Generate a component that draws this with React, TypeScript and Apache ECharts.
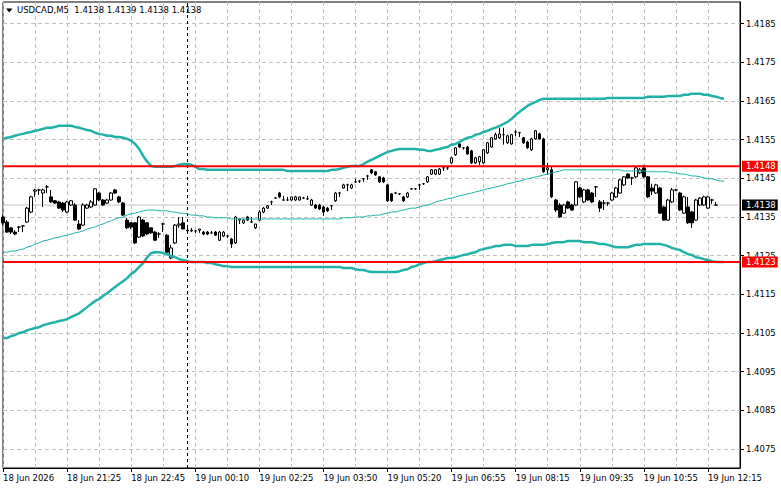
import React, { useEffect, useRef } from 'react';
import * as echarts from 'echarts';

const symbolName = 'USDCAD,M5';
const lastQuote = ['1.4138', '1.4139', '1.4138', '1.4138'];

const tickLabels = [
  '18 Jun 2026', '18 Jun 21:25', '18 Jun 22:45', '19 Jun 00:10', '19 Jun 02:25', '19 Jun 03:50',
  '19 Jun 05:20', '19 Jun 06:55', '19 Jun 08:15', '19 Jun 09:35', '19 Jun 10:55', '19 Jun 12:15',
];

const priceTicks = [1.4075, 1.4085, 1.4095, 1.4105, 1.4115, 1.4125, 1.4135, 1.4145, 1.4155, 1.4165, 1.4175, 1.4185];

const levelLines = [1.41481, 1.41234];
const bidPrice = 1.41381;
const separatorIndex = 46;
const slotCount = 185;

// [open, close, low, high]
const ohlc: number[][] = [
  [1.41350, 1.41335, 1.41329, 1.41355], [1.41337, 1.41311, 1.41309, 1.41342], [1.41322, 1.41311, 1.41306, 1.41324],
  [1.41311, 1.41306, 1.41303, 1.41316], [1.41324, 1.41324, 1.41311, 1.41327], [1.41327, 1.41327, 1.41311, 1.41329],
  [1.41337, 1.41373, 1.41335, 1.41376], [1.41363, 1.41402, 1.41360, 1.41405], [1.41417, 1.41420, 1.41402, 1.41423],
  [1.41420, 1.41420, 1.41407, 1.41423], [1.41412, 1.41420, 1.41376, 1.41423], [1.41428, 1.41428, 1.41412, 1.41433],
  [1.41402, 1.41389, 1.41386, 1.41420], [1.41392, 1.41386, 1.41384, 1.41394], [1.41389, 1.41373, 1.41371, 1.41392],
  [1.41386, 1.41368, 1.41363, 1.41389], [1.41363, 1.41389, 1.41360, 1.41392], [1.41381, 1.41392, 1.41379, 1.41394],
  [1.41381, 1.41342, 1.41340, 1.41386], [1.41332, 1.41319, 1.41316, 1.41342], [1.41329, 1.41381, 1.41327, 1.41386],
  [1.41373, 1.41381, 1.41371, 1.41384], [1.41376, 1.41389, 1.41373, 1.41394], [1.41381, 1.41423, 1.41379, 1.41425],
  [1.41412, 1.41394, 1.41392, 1.41415], [1.41394, 1.41381, 1.41379, 1.41397], [1.41386, 1.41394, 1.41384, 1.41397],
  [1.41394, 1.41412, 1.41392, 1.41415], [1.41420, 1.41412, 1.41410, 1.41423], [1.41402, 1.41389, 1.41386, 1.41405],
  [1.41386, 1.41355, 1.41353, 1.41389], [1.41342, 1.41322, 1.41319, 1.41348], [1.41335, 1.41324, 1.41319, 1.41337],
  [1.41335, 1.41283, 1.41280, 1.41337], [1.41298, 1.41350, 1.41296, 1.41353], [1.41342, 1.41301, 1.41298, 1.41345],
  [1.41335, 1.41306, 1.41303, 1.41337], [1.41322, 1.41309, 1.41306, 1.41324], [1.41311, 1.41290, 1.41288, 1.41314],
  [1.41306, 1.41306, 1.41296, 1.41311], [1.41332, 1.41332, 1.41311, 1.41335], [1.41303, 1.41259, 1.41257, 1.41306],
  [1.41244, 1.41270, 1.41241, 1.41278], [1.41283, 1.41329, 1.41280, 1.41332], [1.41329, 1.41332, 1.41322, 1.41350],
  [1.41335, 1.41319, 1.41319, 1.41350], [1.41314, 1.41316, 1.41311, 1.41327], [1.41314, 1.41316, 1.41311, 1.41322],
  [1.41314, 1.41314, 1.41309, 1.41316], [1.41316, 1.41319, 1.41309, 1.41319], [1.41311, 1.41306, 1.41303, 1.41314],
  [1.41311, 1.41306, 1.41303, 1.41314], [1.41309, 1.41309, 1.41306, 1.41314], [1.41311, 1.41303, 1.41301, 1.41314],
  [1.41290, 1.41311, 1.41288, 1.41314], [1.41301, 1.41311, 1.41298, 1.41314], [1.41301, 1.41301, 1.41296, 1.41303],
  [1.41293, 1.41280, 1.41270, 1.41296], [1.41283, 1.41350, 1.41280, 1.41353], [1.41342, 1.41345, 1.41332, 1.41345],
  [1.41335, 1.41342, 1.41332, 1.41345], [1.41350, 1.41342, 1.41340, 1.41353], [1.41337, 1.41337, 1.41335, 1.41350],
  [1.41322, 1.41332, 1.41319, 1.41332], [1.41342, 1.41363, 1.41340, 1.41368], [1.41363, 1.41373, 1.41360, 1.41376],
  [1.41373, 1.41379, 1.41371, 1.41381], [1.41389, 1.41389, 1.41381, 1.41392], [1.41399, 1.41399, 1.41397, 1.41402],
  [1.41412, 1.41402, 1.41399, 1.41415], [1.41394, 1.41394, 1.41392, 1.41405], [1.41394, 1.41394, 1.41392, 1.41402],
  [1.41394, 1.41402, 1.41392, 1.41402], [1.41394, 1.41402, 1.41392, 1.41405], [1.41394, 1.41402, 1.41392, 1.41402],
  [1.41399, 1.41399, 1.41397, 1.41402], [1.41397, 1.41397, 1.41394, 1.41405], [1.41381, 1.41394, 1.41379, 1.41397],
  [1.41381, 1.41373, 1.41371, 1.41384], [1.41381, 1.41371, 1.41368, 1.41384], [1.41376, 1.41363, 1.41353, 1.41379],
  [1.41373, 1.41366, 1.41363, 1.41376], [1.41379, 1.41379, 1.41368, 1.41381], [1.41392, 1.41412, 1.41389, 1.41415],
  [1.41412, 1.41412, 1.41402, 1.41415], [1.41425, 1.41433, 1.41423, 1.41436], [1.41433, 1.41433, 1.41417, 1.41436],
  [1.41425, 1.41433, 1.41423, 1.41436], [1.41441, 1.41441, 1.41438, 1.41449], [1.41443, 1.41443, 1.41438, 1.41446],
  [1.41449, 1.41449, 1.41441, 1.41451], [1.41456, 1.41456, 1.41446, 1.41459], [1.41472, 1.41464, 1.41461, 1.41474],
  [1.41467, 1.41459, 1.41456, 1.41469], [1.41454, 1.41441, 1.41438, 1.41456], [1.41451, 1.41441, 1.41438, 1.41454],
  [1.41433, 1.41392, 1.41389, 1.41436], [1.41410, 1.41392, 1.41389, 1.41412], [1.41412, 1.41412, 1.41410, 1.41415],
  [1.41410, 1.41410, 1.41407, 1.41412], [1.41402, 1.41392, 1.41389, 1.41405], [1.41402, 1.41412, 1.41399, 1.41415],
  [1.41423, 1.41423, 1.41420, 1.41425], [1.41423, 1.41423, 1.41420, 1.41425], [1.41433, 1.41433, 1.41420, 1.41436],
  [1.41436, 1.41436, 1.41433, 1.41438], [1.41441, 1.41454, 1.41438, 1.41456], [1.41461, 1.41472, 1.41459, 1.41474],
  [1.41461, 1.41472, 1.41459, 1.41474], [1.41461, 1.41474, 1.41459, 1.41477], [1.41477, 1.41477, 1.41469, 1.41480],
  [1.41477, 1.41477, 1.41472, 1.41480], [1.41490, 1.41503, 1.41487, 1.41506], [1.41511, 1.41529, 1.41508, 1.41531],
  [1.41539, 1.41531, 1.41529, 1.41544], [1.41529, 1.41529, 1.41524, 1.41531], [1.41531, 1.41513, 1.41511, 1.41534],
  [1.41521, 1.41490, 1.41487, 1.41524], [1.41490, 1.41503, 1.41487, 1.41506], [1.41493, 1.41506, 1.41485, 1.41508],
  [1.41490, 1.41524, 1.41487, 1.41526], [1.41516, 1.41542, 1.41513, 1.41544], [1.41531, 1.41555, 1.41529, 1.41557],
  [1.41552, 1.41563, 1.41550, 1.41568], [1.41555, 1.41565, 1.41552, 1.41581], [1.41563, 1.41563, 1.41537, 1.41581],
  [1.41542, 1.41560, 1.41539, 1.41563], [1.41539, 1.41563, 1.41537, 1.41565], [1.41570, 1.41570, 1.41560, 1.41575],
  [1.41568, 1.41568, 1.41557, 1.41570], [1.41555, 1.41542, 1.41539, 1.41557], [1.41544, 1.41529, 1.41526, 1.41547],
  [1.41524, 1.41552, 1.41521, 1.41555], [1.41552, 1.41573, 1.41550, 1.41575], [1.41565, 1.41552, 1.41550, 1.41568],
  [1.41552, 1.41467, 1.41464, 1.41555], [1.41472, 1.41477, 1.41459, 1.41490], [1.41472, 1.41402, 1.41399, 1.41480],
  [1.41394, 1.41368, 1.41363, 1.41397], [1.41381, 1.41350, 1.41348, 1.41386], [1.41360, 1.41381, 1.41358, 1.41384],
  [1.41389, 1.41373, 1.41371, 1.41392], [1.41381, 1.41368, 1.41366, 1.41384], [1.41381, 1.41441, 1.41379, 1.41443],
  [1.41425, 1.41402, 1.41399, 1.41428], [1.41389, 1.41420, 1.41386, 1.41423], [1.41420, 1.41394, 1.41392, 1.41423],
  [1.41412, 1.41389, 1.41386, 1.41415], [1.41428, 1.41428, 1.41402, 1.41430], [1.41389, 1.41373, 1.41363, 1.41394],
  [1.41386, 1.41386, 1.41368, 1.41394], [1.41386, 1.41386, 1.41379, 1.41389], [1.41394, 1.41412, 1.41392, 1.41415],
  [1.41402, 1.41425, 1.41399, 1.41428], [1.41412, 1.41446, 1.41410, 1.41449], [1.41433, 1.41454, 1.41430, 1.41456],
  [1.41461, 1.41451, 1.41449, 1.41464], [1.41451, 1.41451, 1.41433, 1.41454], [1.41454, 1.41477, 1.41451, 1.41480],
  [1.41464, 1.41472, 1.41461, 1.41477], [1.41477, 1.41454, 1.41451, 1.41485], [1.41454, 1.41402, 1.41399, 1.41456],
  [1.41425, 1.41417, 1.41407, 1.41436], [1.41412, 1.41433, 1.41410, 1.41436], [1.41425, 1.41360, 1.41358, 1.41428],
  [1.41376, 1.41342, 1.41340, 1.41379], [1.41342, 1.41394, 1.41340, 1.41397], [1.41389, 1.41420, 1.41386, 1.41425],
  [1.41420, 1.41420, 1.41417, 1.41423], [1.41412, 1.41368, 1.41366, 1.41415], [1.41360, 1.41402, 1.41358, 1.41405],
  [1.41376, 1.41335, 1.41332, 1.41402], [1.41363, 1.41335, 1.41322, 1.41366], [1.41342, 1.41394, 1.41340, 1.41397],
  [1.41381, 1.41399, 1.41379, 1.41402], [1.41381, 1.41402, 1.41379, 1.41405], [1.41373, 1.41402, 1.41371, 1.41405],
  [1.41394, 1.41394, 1.41384, 1.41397], [1.41381, 1.41381, 1.41381, 1.41389],
];

const upperBand = [
  1.41552, 1.41555, 1.41557, 1.41560, 1.41563, 1.41565, 1.41568, 1.41570, 1.41573, 1.41575,
  1.41578, 1.41581, 1.41581, 1.41583, 1.41586, 1.41586, 1.41586, 1.41586, 1.41583, 1.41581,
  1.41578, 1.41575, 1.41573, 1.41568, 1.41565, 1.41563, 1.41560, 1.41560, 1.41557, 1.41557,
  1.41555, 1.41552, 1.41547, 1.41539, 1.41526, 1.41508, 1.41493, 1.41482, 1.41480, 1.41480,
  1.41480, 1.41480, 1.41480, 1.41482, 1.41485, 1.41487, 1.41487, 1.41485, 1.41480, 1.41474,
  1.41474, 1.41472, 1.41472, 1.41472, 1.41472, 1.41472, 1.41472, 1.41472, 1.41472, 1.41472,
  1.41472, 1.41472, 1.41472, 1.41472, 1.41472, 1.41472, 1.41472, 1.41472, 1.41472, 1.41472,
  1.41472, 1.41469, 1.41469, 1.41469, 1.41469, 1.41469, 1.41469, 1.41469, 1.41469, 1.41469,
  1.41469, 1.41469, 1.41472, 1.41472, 1.41474, 1.41477, 1.41480, 1.41482, 1.41482, 1.41482,
  1.41487, 1.41493, 1.41498, 1.41503, 1.41508, 1.41513, 1.41518, 1.41521, 1.41524, 1.41526,
  1.41526, 1.41526, 1.41526, 1.41526, 1.41524, 1.41524, 1.41521, 1.41521, 1.41524, 1.41526,
  1.41529, 1.41531, 1.41537, 1.41539, 1.41544, 1.41550, 1.41555, 1.41557, 1.41563, 1.41565,
  1.41570, 1.41573, 1.41578, 1.41581, 1.41586, 1.41591, 1.41596, 1.41604, 1.41614, 1.41622,
  1.41630, 1.41638, 1.41643, 1.41648, 1.41653, 1.41656, 1.41656, 1.41656, 1.41656, 1.41656,
  1.41656, 1.41656, 1.41656, 1.41656, 1.41656, 1.41656, 1.41656, 1.41656, 1.41656, 1.41656,
  1.41656, 1.41658, 1.41658, 1.41658, 1.41658, 1.41658, 1.41658, 1.41658, 1.41658, 1.41658,
  1.41658, 1.41661, 1.41661, 1.41661, 1.41661, 1.41661, 1.41663, 1.41663, 1.41663, 1.41663,
  1.41666, 1.41666, 1.41669, 1.41669, 1.41669, 1.41666, 1.41666, 1.41663, 1.41661, 1.41658,
  1.41656,
];

const middleBand = [
  1.41259, 1.41259, 1.41262, 1.41262, 1.41265, 1.41267, 1.41272, 1.41275, 1.41280, 1.41283,
  1.41288, 1.41290, 1.41293, 1.41296, 1.41298, 1.41301, 1.41303, 1.41306, 1.41309, 1.41311,
  1.41314, 1.41319, 1.41322, 1.41324, 1.41329, 1.41332, 1.41337, 1.41340, 1.41345, 1.41348,
  1.41350, 1.41355, 1.41358, 1.41360, 1.41363, 1.41366, 1.41368, 1.41368, 1.41368, 1.41366,
  1.41366, 1.41366, 1.41363, 1.41363, 1.41360, 1.41360, 1.41358, 1.41355, 1.41355, 1.41353,
  1.41353, 1.41350, 1.41350, 1.41348, 1.41348, 1.41348, 1.41348, 1.41345, 1.41345, 1.41345,
  1.41345, 1.41345, 1.41345, 1.41345, 1.41345, 1.41345, 1.41345, 1.41345, 1.41345, 1.41345,
  1.41345, 1.41345, 1.41345, 1.41345, 1.41345, 1.41345, 1.41345, 1.41345, 1.41345, 1.41345,
  1.41345, 1.41345, 1.41345, 1.41345, 1.41345, 1.41348, 1.41348, 1.41348, 1.41350, 1.41350,
  1.41350, 1.41353, 1.41353, 1.41355, 1.41355, 1.41358, 1.41360, 1.41363, 1.41363, 1.41366,
  1.41368, 1.41371, 1.41373, 1.41373, 1.41376, 1.41379, 1.41381, 1.41384, 1.41389, 1.41392,
  1.41394, 1.41397, 1.41399, 1.41402, 1.41405, 1.41407, 1.41410, 1.41412, 1.41415, 1.41417,
  1.41420, 1.41423, 1.41425, 1.41428, 1.41430, 1.41433, 1.41436, 1.41438, 1.41441, 1.41443,
  1.41446, 1.41449, 1.41451, 1.41454, 1.41456, 1.41459, 1.41461, 1.41464, 1.41467, 1.41469,
  1.41472, 1.41472, 1.41472, 1.41472, 1.41472, 1.41472, 1.41472, 1.41472, 1.41472, 1.41472,
  1.41472, 1.41472, 1.41472, 1.41472, 1.41472, 1.41469, 1.41469, 1.41469, 1.41469, 1.41469,
  1.41469, 1.41467, 1.41467, 1.41467, 1.41467, 1.41467, 1.41467, 1.41464, 1.41464, 1.41461,
  1.41461, 1.41459, 1.41456, 1.41456, 1.41454, 1.41451, 1.41449, 1.41449, 1.41446, 1.41443,
  1.41443,
];

const lowerBand = [
  1.41037, 1.41037, 1.41042, 1.41045, 1.41050, 1.41052, 1.41057, 1.41060, 1.41063, 1.41065,
  1.41070, 1.41073, 1.41076, 1.41078, 1.41081, 1.41083, 1.41086, 1.41091, 1.41096, 1.41101,
  1.41109, 1.41117, 1.41125, 1.41133, 1.41138, 1.41146, 1.41153, 1.41161, 1.41169, 1.41177,
  1.41184, 1.41192, 1.41203, 1.41210, 1.41221, 1.41231, 1.41246, 1.41257, 1.41259, 1.41259,
  1.41257, 1.41254, 1.41249, 1.41246, 1.41241, 1.41239, 1.41236, 1.41234, 1.41234, 1.41234,
  1.41234, 1.41231, 1.41231, 1.41228, 1.41226, 1.41223, 1.41223, 1.41221, 1.41221, 1.41221,
  1.41221, 1.41221, 1.41221, 1.41221, 1.41221, 1.41221, 1.41221, 1.41221, 1.41221, 1.41221,
  1.41221, 1.41221, 1.41221, 1.41221, 1.41221, 1.41221, 1.41221, 1.41221, 1.41221, 1.41221,
  1.41221, 1.41221, 1.41221, 1.41221, 1.41221, 1.41218, 1.41218, 1.41218, 1.41215, 1.41213,
  1.41213, 1.41210, 1.41208, 1.41208, 1.41208, 1.41208, 1.41208, 1.41208, 1.41208, 1.41210,
  1.41213, 1.41215, 1.41221, 1.41223, 1.41228, 1.41231, 1.41234, 1.41234, 1.41236, 1.41239,
  1.41241, 1.41244, 1.41244, 1.41246, 1.41249, 1.41252, 1.41254, 1.41257, 1.41259, 1.41265,
  1.41267, 1.41270, 1.41272, 1.41275, 1.41275, 1.41278, 1.41278, 1.41278, 1.41275, 1.41275,
  1.41275, 1.41275, 1.41278, 1.41278, 1.41278, 1.41278, 1.41280, 1.41283, 1.41285, 1.41285,
  1.41285, 1.41288, 1.41288, 1.41288, 1.41288, 1.41285, 1.41285, 1.41285, 1.41283, 1.41280,
  1.41280, 1.41278, 1.41275, 1.41272, 1.41272, 1.41272, 1.41272, 1.41275, 1.41278, 1.41278,
  1.41280, 1.41280, 1.41280, 1.41280, 1.41280, 1.41278, 1.41275, 1.41270, 1.41267, 1.41265,
  1.41259, 1.41254, 1.41252, 1.41246, 1.41244, 1.41241, 1.41239, 1.41236, 1.41234, 1.41234,
  1.41234,
];

const FONT = "'DejaVu Sans', Tahoma, sans-serif";
const TEAL = '#20B2AA';

function levelSeries(categories: string[], value: number, color: string, boxColor: string, z: number, width: number) {
  return {
    type: 'line',
    data: categories.map(() => value),
    symbol: 'none',
    showSymbol: false,
    silent: true,
    z,
    lineStyle: { color, width, type: 'solid' },
    endLabel: {
      show: true,
      distance: 2,
      formatter: () => value.toFixed(4),
      backgroundColor: boxColor,
      color: '#fff',
      padding: [1, 2, 1, 4],
      fontSize: 8.5,
      fontFamily: FONT,
    },
  };
}

export default function App() {
  const ref = useRef<HTMLDivElement>(null);

  useEffect(() => {
    if (!ref.current) return;
    const chart = echarts.init(ref.current, null, { renderer: 'svg' });
    const categories = Array.from({ length: slotCount }, (_, i) => String(i));

    chart.setOption({
      animation: false,
      backgroundColor: '#ffffff',
      textStyle: { fontFamily: FONT },
      grid: {
        left: 3, top: 2, width: 737, height: 466,
        show: true, borderColor: '#000', borderWidth: 1, backgroundColor: '#fff',
      },
      graphic: [
        { type: 'polygon', z: 20, shape: { points: [[6, 8.5], [12.5, 8.5], [9.25, 12.5]] }, style: { fill: '#000' } },
        {
          type: 'text', z: 20, left: 17, top: 5,
          style: { text: `${symbolName}  ${lastQuote.join(' ')}`, fill: '#000', font: `8.5px ${FONT}` },
        },
      ],
      xAxis: {
        type: 'category',
        data: categories,
        boundaryGap: false,
        axisLine: { show: true, lineStyle: { color: '#000', width: 1 } },
        axisTick: { show: true, interval: 15, length: 4, lineStyle: { color: '#000' } },
        axisLabel: {
          interval: 15,
          align: 'left',
          margin: 5,
          color: '#000',
          fontSize: 8.5,
          fontFamily: FONT,
          formatter: (value: string) => {
            const i = Number(value);
            return i % 16 === 0 ? (tickLabels[i / 16] ?? '') : '';
          },
        },
        splitLine: { show: true, interval: 7, lineStyle: { color: '#c0c0c0', type: [4, 3], width: 1 } },
      },
      yAxis: {
        type: 'value',
        position: 'right',
        min: 1.40701,
        max: 1.41906,
        axisLine: { show: true, lineStyle: { color: '#000', width: 1 } },
        axisTick: { show: true, length: 4, customValues: priceTicks, lineStyle: { color: '#000' } },
        axisLabel: {
          customValues: priceTicks,
          margin: 6,
          color: '#000',
          fontSize: 8.5,
          fontFamily: FONT,
          formatter: (v: number) => v.toFixed(4),
        },
        splitLine: { show: true, lineStyle: { color: '#c0c0c0', type: [4, 3], width: 1 } },
      },
      series: [
        levelSeries(categories, bidPrice, '#c0c0c0', '#000000', 1, 1),
        {
          type: 'line',
          name: 'mid',
          data: middleBand,
          symbol: 'none',
          showSymbol: false,
          z: 4,
          lineStyle: { color: TEAL, width: 1 },
          markLine: {
            z: 1,
            silent: true,
            symbol: ['none', 'none'],
            data: [
              {
                xAxis: separatorIndex,
                lineStyle: { color: '#000', width: 1, type: [3, 3] },
                label: { show: false },
              },
            ],
          },
        },
        {
          type: 'candlestick',
          data: ohlc,
          barWidth: 3,
          z: 3,
          itemStyle: {
            color: '#ffffff',
            color0: '#000000',
            borderColor: '#000000',
            borderColor0: '#000000',
            borderColorDoji: '#000000',
            borderWidth: 1,
          },
        },
        {
          type: 'line',
          name: 'upper',
          data: upperBand,
          symbol: 'none',
          showSymbol: false,
          z: 4,
          lineStyle: { color: TEAL, width: 2.5 },
        },
        {
          type: 'line',
          name: 'lower',
          data: lowerBand,
          symbol: 'none',
          showSymbol: false,
          z: 4,
          lineStyle: { color: TEAL, width: 2.5 },
        },
        ...levelLines.map((v) => levelSeries(categories, v, '#ff0000', '#ff0000', 6, 2)),
      ],
    });

    return () => chart.dispose();
  }, []);

  return (
    <div
      ref={ref}
      style={{ position: 'fixed', left: 0, top: 0, width: 781, height: 489, background: '#fff' }}
    />
  );
}
